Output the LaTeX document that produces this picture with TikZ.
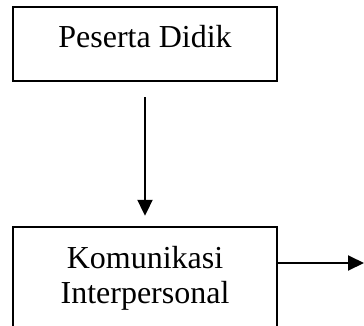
\documentclass[tikz,border=0pt]{standalone}
\usepackage{fontspec}
\setmainfont{Liberation Serif}
\usetikzlibrary{arrows.meta,positioning}

\tikzset{
  kotak/.style={draw=black, line width=2pt, inner sep=0pt, minimum width=264pt, align=center, font=\fontsize{32}{35}\selectfont},
  panah/.style={line width=2pt, -{Triangle[width=15pt,length=16pt]}}
}

\begin{document}
\begin{tikzpicture}[x=1pt,y=-1pt]
  \clip (0,0) rectangle (364,325);
  \node[kotak, minimum height=74pt, text height=21pt, text depth=15pt] (peserta) at (145,44) {Peserta Didik};
  \node[kotak, minimum height=103pt] (komunikasi) at (145,278.3) {Komunikasi\\Interpersonal};
  \coordinate (keluar) at (364,263);
  \draw[panah, shorten <=15pt, shorten >=10pt] (peserta) -- (komunikasi);
  \draw[panah] ([yshift=15.3pt]komunikasi.east) -- (keluar);
\end{tikzpicture}
\end{document}
